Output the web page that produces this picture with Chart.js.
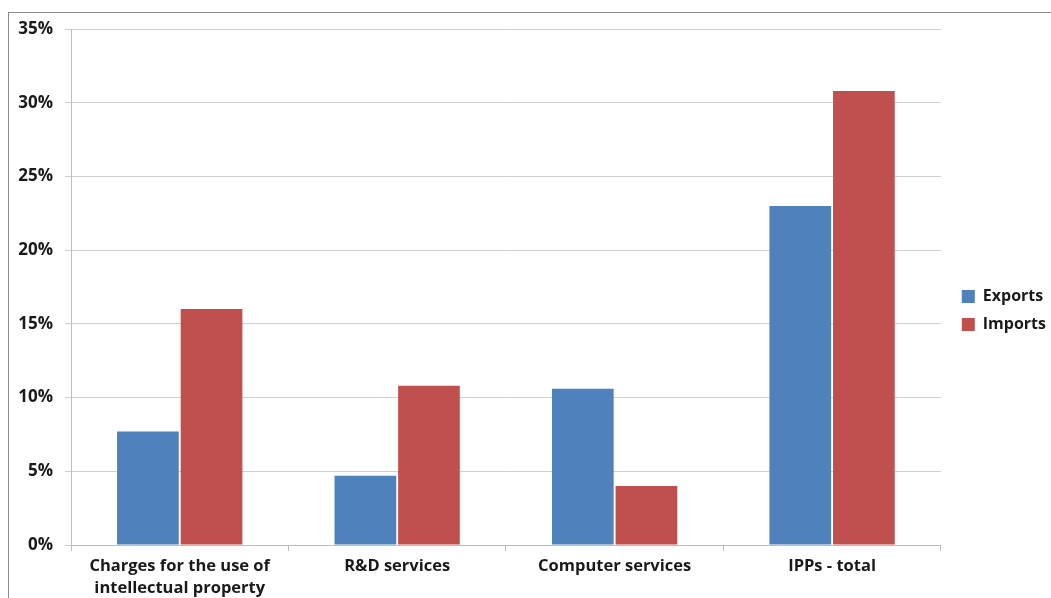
<!DOCTYPE html>
<html>
<head>
<meta charset="utf-8">
<script src="https://cdn.jsdelivr.net/npm/chart.js@4"></script>
<style>
  html, body { margin: 0; padding: 0; background: #fff; overflow: hidden; }
  #wrap { position: relative; width: 1051px; height: 598px; }
  #frame { position: absolute; left: 8px; top: 12px; width: 1100px; height: 700px;
           border: 1.5px solid #8a8a8a; box-sizing: border-box; pointer-events: none; }
  canvas { position: absolute; left: 0; top: 0; }
</style>
</head>
<body>
<div id="wrap">
  <canvas id="c" width="1051" height="598"></canvas>
  <div id="frame"></div>
</div>
<script>
const categories = [
  ["Charges for the use of", "intellectual property"],
  "R&D services",
  "Computer services",
  "IPPs - total"
];
const exportsShare = [7.7, 4.7, 10.6, 23.0];
const importsShare = [16.0, 10.8, 4.0, 30.8];
const yTicks = [0, 5, 10, 15, 20, 25, 30, 35];

const fontFamily = "'Open Sans', Lato, sans-serif";
const textColor = "#1a1a1a";

// Nudge the legend a little further from the plot area.
const legendOffset = {
  id: "legendOffset",
  afterLayout(chart) {
    const lg = chart.legend;
    if (!lg) return;
    lg.left += 9; lg.right += 9;
    lg.top -= 3; lg.bottom -= 3;
  }
};

new Chart(document.getElementById("c"), {
  type: "bar",
  data: {
    labels: categories,
    datasets: [
      { label: "Exports", data: exportsShare, backgroundColor: "#4F81BD",
        categoryPercentage: 0.585, barPercentage: 0.97 },
      { label: "Imports", data: importsShare, backgroundColor: "#C0504D",
        categoryPercentage: 0.585, barPercentage: 0.97 }
    ]
  },
  plugins: [legendOffset],
  options: {
    responsive: false,
    animation: false,
    layout: { padding: { left: 0, top: 29, right: 4, bottom: 0 } },
    plugins: {
      tooltip: { enabled: false },
      legend: {
        position: "right",
        labels: {
          boxWidth: 13, boxHeight: 13, padding: 12,
          color: textColor,
          font: { family: fontFamily, size: 16, weight: "bold" }
        }
      }
    },
    scales: {
      x: {
        grid: { drawOnChartArea: false, drawTicks: true, tickLength: 6, color: "#bdbdbd", offset: true },
        border: { color: "#bdbdbd", width: 1 },
        ticks: {
          color: textColor, padding: 5, maxRotation: 0, autoSkip: false,
          font: { family: fontFamily, size: 16.5, weight: "bold", lineHeight: 1.3 }
        },
        afterFit: (axis) => { axis.height = 53; }
      },
      y: {
        min: 0, max: 35,
        afterBuildTicks: (axis) => { axis.ticks = yTicks.map(v => ({ value: v })); },
        grid: { color: "#cfcfcf", lineWidth: 1, tickLength: 6 },
        border: { color: "#bdbdbd", width: 1 },
        ticks: {
          color: textColor, padding: 12,
          font: { family: fontFamily, size: 17, weight: "bold" },
          callback: (v) => v + "%"
        },
        afterFit: (axis) => { axis.width = 71; }
      }
    }
  }
});
</script>
</body>
</html>
